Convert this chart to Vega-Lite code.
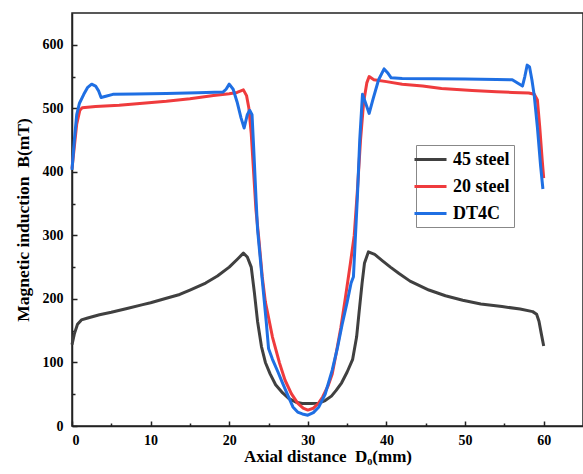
{
  "$schema": "https://vega.github.io/schema/vega-lite/v6.json",
  "autosize": "none",
  "width": 511,
  "height": 413,
  "padding": {"left": 72, "top": 13, "right": 0, "bottom": 48},
  "background": "white",
  "config": {
    "view": {"stroke": "#222222", "strokeWidth": 1.5},
    "font": "Liberation Serif"
  },
  "data": {"values": [
    {"x":0,"B":128,"s":"45 steel"},{"x":0.3,"B":145,"s":"45 steel"},{"x":0.7,"B":160,"s":"45 steel"},{"x":1.2,"B":167,"s":"45 steel"},{"x":2,"B":170,"s":"45 steel"},{"x":3.5,"B":175,"s":"45 steel"},{"x":5,"B":179,"s":"45 steel"},{"x":7,"B":185,"s":"45 steel"},{"x":9,"B":191,"s":"45 steel"},{"x":10,"B":194,"s":"45 steel"},{"x":12,"B":201,"s":"45 steel"},{"x":13.7,"B":207,"s":"45 steel"},{"x":15,"B":214,"s":"45 steel"},{"x":17,"B":225,"s":"45 steel"},{"x":18.5,"B":236,"s":"45 steel"},{"x":20,"B":250,"s":"45 steel"},{"x":21,"B":262,"s":"45 steel"},{"x":21.8,"B":272,"s":"45 steel"},{"x":22.3,"B":266,"s":"45 steel"},{"x":22.8,"B":250,"s":"45 steel"},{"x":23.2,"B":210,"s":"45 steel"},{"x":23.6,"B":165,"s":"45 steel"},{"x":24.1,"B":125,"s":"45 steel"},{"x":24.6,"B":100,"s":"45 steel"},{"x":25.2,"B":82,"s":"45 steel"},{"x":25.9,"B":65,"s":"45 steel"},{"x":26.8,"B":52,"s":"45 steel"},{"x":27.6,"B":43,"s":"45 steel"},{"x":28.5,"B":37.5,"s":"45 steel"},{"x":29.3,"B":35.5,"s":"45 steel"},{"x":30.5,"B":35.5,"s":"45 steel"},{"x":31.4,"B":36,"s":"45 steel"},{"x":32.2,"B":40,"s":"45 steel"},{"x":33,"B":47,"s":"45 steel"},{"x":33.6,"B":56,"s":"45 steel"},{"x":34.3,"B":68,"s":"45 steel"},{"x":35,"B":85,"s":"45 steel"},{"x":35.7,"B":105,"s":"45 steel"},{"x":36.2,"B":140,"s":"45 steel"},{"x":36.5,"B":177,"s":"45 steel"},{"x":36.9,"B":225,"s":"45 steel"},{"x":37.2,"B":256,"s":"45 steel"},{"x":37.7,"B":274,"s":"45 steel"},{"x":38.5,"B":270,"s":"45 steel"},{"x":39.5,"B":260,"s":"45 steel"},{"x":40.5,"B":250,"s":"45 steel"},{"x":41.6,"B":240,"s":"45 steel"},{"x":43,"B":228,"s":"45 steel"},{"x":45.4,"B":214,"s":"45 steel"},{"x":47.5,"B":205,"s":"45 steel"},{"x":49.7,"B":198,"s":"45 steel"},{"x":52,"B":192,"s":"45 steel"},{"x":54.7,"B":188,"s":"45 steel"},{"x":57,"B":184,"s":"45 steel"},{"x":58.6,"B":180,"s":"45 steel"},{"x":59.1,"B":176,"s":"45 steel"},{"x":59.4,"B":165,"s":"45 steel"},{"x":59.7,"B":145,"s":"45 steel"},{"x":60,"B":126,"s":"45 steel"},

    {"x":0,"B":405,"s":"20 steel"},{"x":0.3,"B":440,"s":"20 steel"},{"x":0.6,"B":475,"s":"20 steel"},{"x":1.0,"B":497,"s":"20 steel"},{"x":1.3,"B":501,"s":"20 steel"},{"x":3,"B":503,"s":"20 steel"},{"x":6,"B":505,"s":"20 steel"},{"x":9,"B":508,"s":"20 steel"},{"x":12,"B":511,"s":"20 steel"},{"x":15,"B":515,"s":"20 steel"},{"x":18,"B":520,"s":"20 steel"},{"x":20,"B":523,"s":"20 steel"},{"x":21,"B":525,"s":"20 steel"},{"x":21.8,"B":529,"s":"20 steel"},{"x":22.2,"B":520,"s":"20 steel"},{"x":22.5,"B":500,"s":"20 steel"},{"x":22.8,"B":460,"s":"20 steel"},{"x":23.1,"B":400,"s":"20 steel"},{"x":23.4,"B":340,"s":"20 steel"},{"x":23.8,"B":290,"s":"20 steel"},{"x":24.2,"B":235,"s":"20 steel"},{"x":24.6,"B":195,"s":"20 steel"},{"x":24.9,"B":177,"s":"20 steel"},{"x":25.5,"B":140,"s":"20 steel"},{"x":26.4,"B":99,"s":"20 steel"},{"x":27.1,"B":72,"s":"20 steel"},{"x":27.9,"B":51,"s":"20 steel"},{"x":28.7,"B":36,"s":"20 steel"},{"x":29.4,"B":28,"s":"20 steel"},{"x":30,"B":25,"s":"20 steel"},{"x":30.7,"B":28,"s":"20 steel"},{"x":31.3,"B":35,"s":"20 steel"},{"x":31.9,"B":46,"s":"20 steel"},{"x":32.6,"B":64,"s":"20 steel"},{"x":33.1,"B":82,"s":"20 steel"},{"x":33.6,"B":114,"s":"20 steel"},{"x":34.2,"B":155,"s":"20 steel"},{"x":34.8,"B":204,"s":"20 steel"},{"x":35.4,"B":255,"s":"20 steel"},{"x":35.9,"B":300,"s":"20 steel"},{"x":36.3,"B":370,"s":"20 steel"},{"x":36.7,"B":450,"s":"20 steel"},{"x":37.1,"B":510,"s":"20 steel"},{"x":37.5,"B":540,"s":"20 steel"},{"x":37.8,"B":550,"s":"20 steel"},{"x":38.4,"B":545,"s":"20 steel"},{"x":40,"B":542,"s":"20 steel"},{"x":42,"B":538,"s":"20 steel"},{"x":44.6,"B":535,"s":"20 steel"},{"x":47,"B":531,"s":"20 steel"},{"x":50.9,"B":528,"s":"20 steel"},{"x":54,"B":526,"s":"20 steel"},{"x":56,"B":525,"s":"20 steel"},{"x":58.1,"B":524,"s":"20 steel"},{"x":58.8,"B":522,"s":"20 steel"},{"x":59.2,"B":513,"s":"20 steel"},{"x":59.5,"B":470,"s":"20 steel"},{"x":59.8,"B":420,"s":"20 steel"},{"x":60,"B":390,"s":"20 steel"},

    {"x":0,"B":403,"s":"DT4C"},{"x":0.3,"B":450,"s":"DT4C"},{"x":0.6,"B":490,"s":"DT4C"},{"x":0.95,"B":508,"s":"DT4C"},{"x":1.5,"B":522,"s":"DT4C"},{"x":2.0,"B":533,"s":"DT4C"},{"x":2.5,"B":538,"s":"DT4C"},{"x":3.0,"B":535,"s":"DT4C"},{"x":3.4,"B":527,"s":"DT4C"},{"x":3.7,"B":517,"s":"DT4C"},{"x":4.3,"B":519,"s":"DT4C"},{"x":5.2,"B":522,"s":"DT4C"},{"x":8,"B":522.5,"s":"DT4C"},{"x":12,"B":523.5,"s":"DT4C"},{"x":16,"B":524.5,"s":"DT4C"},{"x":19.2,"B":525.5,"s":"DT4C"},{"x":19.6,"B":530,"s":"DT4C"},{"x":20,"B":538,"s":"DT4C"},{"x":20.5,"B":530,"s":"DT4C"},{"x":21,"B":510,"s":"DT4C"},{"x":21.5,"B":485,"s":"DT4C"},{"x":21.9,"B":469,"s":"DT4C"},{"x":22.3,"B":490,"s":"DT4C"},{"x":22.6,"B":497,"s":"DT4C"},{"x":22.9,"B":490,"s":"DT4C"},{"x":23.1,"B":440,"s":"DT4C"},{"x":23.4,"B":360,"s":"DT4C"},{"x":23.6,"B":310,"s":"DT4C"},{"x":24.2,"B":230,"s":"DT4C"},{"x":24.7,"B":165,"s":"DT4C"},{"x":25.0,"B":122,"s":"DT4C"},{"x":25.5,"B":105,"s":"DT4C"},{"x":26.2,"B":85,"s":"DT4C"},{"x":26.8,"B":67,"s":"DT4C"},{"x":27.5,"B":47,"s":"DT4C"},{"x":28.1,"B":30,"s":"DT4C"},{"x":28.7,"B":22,"s":"DT4C"},{"x":29.3,"B":19,"s":"DT4C"},{"x":30,"B":17,"s":"DT4C"},{"x":30.7,"B":21,"s":"DT4C"},{"x":31.4,"B":30,"s":"DT4C"},{"x":32.2,"B":50,"s":"DT4C"},{"x":33.1,"B":88,"s":"DT4C"},{"x":33.8,"B":125,"s":"DT4C"},{"x":34.4,"B":162,"s":"DT4C"},{"x":35,"B":195,"s":"DT4C"},{"x":35.5,"B":225,"s":"DT4C"},{"x":35.8,"B":235,"s":"DT4C"},{"x":35.9,"B":260,"s":"DT4C"},{"x":36.3,"B":360,"s":"DT4C"},{"x":36.6,"B":450,"s":"DT4C"},{"x":36.95,"B":522,"s":"DT4C"},{"x":37.3,"B":510,"s":"DT4C"},{"x":37.8,"B":492,"s":"DT4C"},{"x":38.3,"B":515,"s":"DT4C"},{"x":39,"B":545,"s":"DT4C"},{"x":39.7,"B":562,"s":"DT4C"},{"x":40.2,"B":555,"s":"DT4C"},{"x":40.6,"B":548,"s":"DT4C"},{"x":42,"B":547,"s":"DT4C"},{"x":46,"B":546.5,"s":"DT4C"},{"x":50,"B":546,"s":"DT4C"},{"x":54,"B":545.5,"s":"DT4C"},{"x":56,"B":545,"s":"DT4C"},{"x":57.3,"B":535,"s":"DT4C"},{"x":57.6,"B":550,"s":"DT4C"},{"x":57.9,"B":568,"s":"DT4C"},{"x":58.2,"B":565,"s":"DT4C"},{"x":58.5,"B":545,"s":"DT4C"},{"x":58.8,"B":520,"s":"DT4C"},{"x":59.2,"B":470,"s":"DT4C"},{"x":59.6,"B":410,"s":"DT4C"},{"x":59.9,"B":373,"s":"DT4C"}
  ]},
  "mark": {"type": "line", "strokeWidth": 3, "interpolate": "linear", "strokeJoin": "round"},
  "encoding": {
    "x": {
      "field": "x", "type": "quantitative",
      "scale": {"domain": [0, 65], "nice": false},
      "axis": {
        "title": "Axial distance\u00a0 D\u2080(mm)",
        "values": [0,5,10,15,20,25,30,35,40,45,50,55,60],
        "labelExpr": "datum.value % 10 === 0 ? datum.label : ''",
        "grid": false,
        "domainColor": "#222222", "domainWidth": 1.5,
        "tickColor": "#222222", "tickWidth": 1.5,
        "tickSize": {"condition": {"test": "datum.value % 10 === 0", "value": -5}, "value": -3},
        "labelPadding": 12,
        "labelFont": "Liberation Serif", "labelFontWeight": "bold", "labelFontSize": 14, "labelColor": "#000000",
        "titleFont": "Liberation Serif", "titleFontWeight": "bold", "titleFontSize": 17, "titleColor": "#000000",
        "titlePadding": 1
      }
    },
    "y": {
      "field": "B", "type": "quantitative",
      "scale": {"domain": [0, 650], "nice": false},
      "axis": {
        "title": "Magnetic induction\u00a0 B(mT)",
        "values": [0,50,100,150,200,250,300,350,400,450,500,550,600],
        "labelExpr": "datum.value % 100 === 0 ? datum.label : ''",
        "grid": false,
        "domainColor": "#222222", "domainWidth": 1.5,
        "tickColor": "#222222", "tickWidth": 1.5,
        "tickSize": {"condition": {"test": "datum.value % 100 === 0", "value": -5}, "value": -3},
        "labelPadding": 14,
        "labelFont": "Liberation Serif", "labelFontWeight": "bold", "labelFontSize": 14, "labelColor": "#000000",
        "titleFont": "Liberation Serif", "titleFontWeight": "bold", "titleFontSize": 17.5, "titleColor": "#000000",
        "titlePadding": 10
      }
    },
    "color": {
      "field": "s", "type": "nominal",
      "scale": {"domain": ["45 steel", "20 steel", "DT4C"], "range": ["#404040", "#ef3b3d", "#1f6fe3"]},
      "legend": {
        "title": null,
        "orient": "none", "legendX": 344, "legendY": 132,
        "strokeColor": "#888888", "padding": 4,
        "symbolType": "M-1.78,0H1.78", "symbolSize": 324, "symbolStrokeWidth": 3,
        "labelFont": "Liberation Serif", "labelFontWeight": "bold", "labelFontSize": 18, "labelColor": "#000000",
        "labelOffset": 12, "rowPadding": 7
      }
    }
  }
}
